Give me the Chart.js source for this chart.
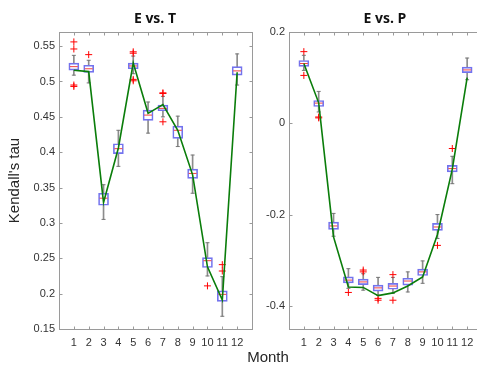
<!DOCTYPE html>
<html>
<head>
<meta charset="utf-8">
<script src="https://cdn.jsdelivr.net/npm/chart.js@4.4.1/dist/chart.umd.min.js"></script>
<style>
  html, body { margin: 0; padding: 0; overflow: hidden; background: #fff; width: 477px; height: 366px; }
  canvas { position: absolute; top: 0; }
  .lbl { position: absolute; color: #262626; white-space: nowrap; transform: translate(-50%, -50%); }
  .ttl { font: bold 14px "Open Sans", sans-serif; color: #111; }
  .axl { font: 15px "Liberation Sans", Arial, sans-serif; }
</style>
</head>
<body>
<canvas id="canvas1" width="262" height="366" style="left:0px"></canvas>
<canvas id="canvas2" width="230" height="366" style="left:262px"></canvas>
<div class="lbl ttl" style="left:155px; top:17px">E vs. T</div>
<div class="lbl ttl" style="left:385px; top:17px">E vs. P</div>
<div class="lbl axl" style="left:268px; top:356px">Month</div>
<script>
const months = [1, 2, 3, 4, 5, 6, 7, 8, 9, 10, 11, 12];

// E vs. T
const tQ1  = [0.516, 0.513, 0.325, 0.398, 0.518, 0.445, 0.4586, 0.4195, 0.363, 0.237, 0.189, 0.509];
const tMed = [0.521, 0.518, 0.335, 0.405, 0.522, 0.4525, 0.462, 0.431, 0.370, 0.2466, 0.199, 0.515];
const tQ3  = [0.526, 0.523, 0.342, 0.412, 0.526, 0.4595, 0.4666, 0.437, 0.376, 0.251, 0.204, 0.521];
const tLo  = [0.509, 0.498, 0.305, 0.380, 0.511, 0.427, 0.450, 0.408, 0.342, 0.225, 0.168, 0.495];
const tHi  = [0.537, 0.530, 0.354, 0.431, 0.536, 0.471, 0.479, 0.451, 0.396, 0.272, 0.224, 0.539];
const tLine = [0.516, 0.514, 0.329, 0.406, 0.526, 0.455, 0.4675, 0.431, 0.368, 0.238, 0.191, 0.513];
const tOut = [[1, 0.556], [1, 0.546], [1, 0.495], [1, 0.493], [2, 0.538], [5, 0.542], [5, 0.540],
              [5, 0.503], [5, 0.501], [7, 0.484], [7, 0.483], [7, 0.443], [10, 0.211], [11, 0.241], [11, 0.232]];
const tTicks = [0.15, 0.2, 0.25, 0.3, 0.35, 0.4, 0.45, 0.5, 0.55];

// E vs. P
const pQ1  = [0.1246, 0.037, -0.232, -0.349, -0.353, -0.367, -0.363, -0.354, -0.333, -0.234, -0.106, 0.111];
const pMed = [0.131, 0.0444, -0.2245, -0.343, -0.347, -0.360, -0.356, -0.345, -0.325, -0.2267, -0.099, 0.117];
const pQ3  = [0.1377, 0.050, -0.216, -0.336, -0.341, -0.354, -0.350, -0.339, -0.319, -0.219, -0.092, 0.123];
const pLo  = [0.116, 0.025, -0.247, -0.361, -0.365, -0.376, -0.372, -0.369, -0.350, -0.252, -0.132, 0.0955];
const pHi  = [0.149, 0.070, -0.197, -0.318, -0.329, -0.337, -0.337, -0.325, -0.301, -0.1996, -0.072, 0.143];
const pLine = [0.131, 0.045, -0.2485, -0.358, -0.359, -0.377, -0.371, -0.356, -0.336, -0.243, -0.100, 0.100];
const pOut = [[1, 0.157], [1, 0.105], [2, 0.014], [2, 0.012], [4, -0.370], [5, -0.321], [5, -0.325],
              [6, -0.383], [6, -0.387], [7, -0.331], [7, -0.387], [10, -0.267], [11, -0.055]];
const pTicks = [-0.4, -0.2, 0, 0.2];

const tickFont = { family: "'Liberation Sans', Arial, sans-serif", size: 11 };
const tickColor = '#333';

// frame with inward tick marks (matlab style)
const framePlugin = {
    id: 'frame',
    beforeDatasetsDraw(chart) {
        const a = chart.chartArea, c = chart.ctx;
        const L = Math.round(a.left) + 0.5, R = Math.round(a.right) + 0.5;
        const T = Math.round(a.top) + 0.5, B = Math.round(a.bottom) + 0.5;
        c.save();
        c.strokeStyle = '#9a9a9a';
        c.lineWidth = 1;
        c.strokeRect(L, T, R - L, B - T);
        c.beginPath();
        chart.scales.x.ticks.forEach(t => {
            const px = Math.round(chart.scales.x.getPixelForValue(t.value)) + 0.5;
            c.moveTo(px, B); c.lineTo(px, B - 3);
            c.moveTo(px, T); c.lineTo(px, T + 3);
        });
        chart.scales.y.ticks.forEach(t => {
            const py = Math.round(chart.scales.y.getPixelForValue(t.value)) + 0.5;
            c.moveTo(L, py); c.lineTo(L + 3, py);
            c.moveTo(R, py); c.lineTo(R - 3, py);
        });
        c.stroke();
        c.restore();
    }
};

function pts(arr) {
    return months.map((m, i) => ({ x: m, y: arr[i] }));
}

function makeChart(el, q1, med, q3, lo, hi, line, out, yTicks, ymin, ymax, yWidth, yTitle) {
    const whisk = { type: 'bar', grouped: false, barThickness: 1, backgroundColor: '#8c8c8c', borderWidth: 0, order: 5 };
    return new Chart(el, {
        type: 'bar',
        data: {
            datasets: [
                Object.assign({ data: months.map((m, i) => ({ x: m, y: [q3[i], hi[i]] })) }, whisk),
                Object.assign({ data: months.map((m, i) => ({ x: m, y: [lo[i], q1[i]] })) }, whisk),
                {
                    type: 'bar', grouped: false, barThickness: 10,
                    data: months.map((m, i) => ({ x: m, y: [q1[i], q3[i]] })),
                    backgroundColor: 'rgba(255,255,255,0)', borderColor: '#7373ee',
                    borderWidth: 1, borderSkipped: false, order: 4
                },
                {
                    type: 'scatter', data: pts(hi).concat(pts(lo)),
                    pointStyle: 'line', pointRadius: 2, borderColor: '#777', borderWidth: 1, order: 3
                },
                {
                    type: 'scatter', data: pts(med),
                    pointStyle: 'line', pointRadius: 4, borderColor: '#f04040', borderWidth: 1, order: 2
                },
                {
                    type: 'scatter', data: out.map(o => ({ x: o[0], y: o[1] })),
                    pointStyle: 'cross', pointRadius: 3.5, borderColor: '#ff0000', borderWidth: 1, order: 1
                },
                {
                    type: 'line', data: pts(line),
                    borderColor: '#0a7d0a', borderWidth: 1.6, pointRadius: 0, tension: 0, order: 0
                }
            ]
        },
        options: {
            responsive: false,
            animation: false,
            layout: { padding: { top: 32, right: 10, left: 0, bottom: 0 } },
            plugins: { legend: { display: false }, tooltip: { enabled: false } },
            scales: {
                x: {
                    type: 'linear', min: 0, max: 13, offset: false,
                    grid: { display: false, drawTicks: false },
                    border: { display: false },
                    ticks: { padding: 7, font: tickFont, color: tickColor, maxRotation: 0, autoSkip: false },
                    afterBuildTicks: s => { s.ticks = months.map(v => ({ value: v })); },
                    afterFit: s => { s.height = 37; }
                },
                y: {
                    min: ymin, max: ymax,
                    grid: { display: false, drawTicks: false },
                    border: { display: false },
                    ticks: { padding: 4, font: tickFont, color: tickColor, callback: v => String(v) },
                    afterBuildTicks: s => { s.ticks = yTicks.map(v => ({ value: v })); },
                    afterFit: s => { s.width = yWidth; },
                    title: {
                        display: !!yTitle, text: yTitle, color: '#262626',
                        font: { family: "'Liberation Sans', Arial, sans-serif", size: 15 },
                        padding: { top: 6, bottom: 0 }
                    }
                }
            }
        },
        plugins: [framePlugin]
    });
}

const c1 = makeChart(document.getElementById('canvas1'), tQ1, tMed, tQ3, tLo, tHi, tLine, tOut,
    tTicks, 0.15, 0.57, 59, "Kendall's tau");
const c2 = makeChart(document.getElementById('canvas2'), pQ1, pMed, pQ3, pLo, pHi, pLine, pOut,
    pTicks, -0.45, 0.2, 27, '');
</script>
</body>
</html>
